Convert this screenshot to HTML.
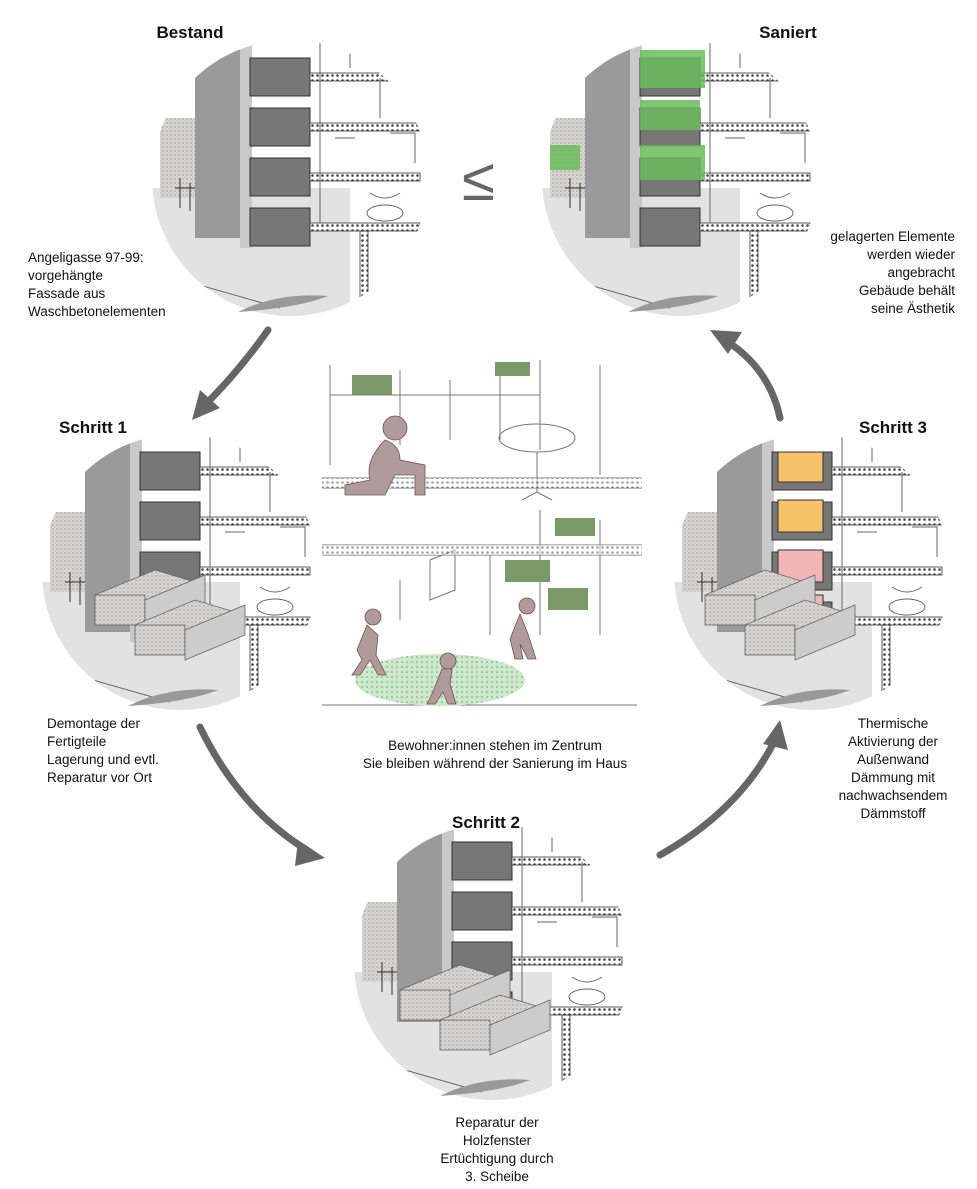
<!DOCTYPE html>
<html><head><meta charset="utf-8"><style>
body{margin:0;background:#fff}
svg{display:block}
text{font-family:"Liberation Sans",sans-serif;fill:#111}
.t{font-size:17px;font-weight:bold}
.s{font-size:13.5px}
</style></head><body>
<svg width="977" height="1189" viewBox="0 0 977 1189" xmlns="http://www.w3.org/2000/svg">
<defs>
<clipPath id="c"><circle cx="0" cy="0" r="138"/></clipPath>
<pattern id="dots" width="4" height="4" patternUnits="userSpaceOnUse"><rect width="4" height="4" fill="#d8d6d0"/><circle cx="1" cy="1" r="0.8" fill="#999"/><circle cx="3" cy="3" r="0.6" fill="#bbb"/></pattern>
<pattern id="hatch" width="5" height="5" patternUnits="userSpaceOnUse"><rect width="5" height="5" fill="#fff"/><circle cx="2.5" cy="2.5" r="1.3" fill="#444"/></pattern>
<pattern id="gr" width="5" height="5" patternUnits="userSpaceOnUse"><rect width="5" height="5" fill="#cfe8c8"/><circle cx="2" cy="2" r="0.8" fill="#5a9"/></pattern>
<g id="bld" clip-path="url(#c)">
  <rect x="-140" y="-140" width="280" height="280" fill="#fff"/>
  <rect x="-140" y="10" width="200" height="130" fill="#e2e2e2"/>
  <rect x="-130" y="-60" width="40" height="80" fill="url(#dots)"/>
  <rect x="-95" y="-140" width="45" height="200" fill="#9a9a9a"/>
  <rect x="-50" y="-140" width="12" height="210" fill="#c9c9c9"/>
  <g fill="#777" stroke="#333" stroke-width="1">
    <rect x="-40" y="-120" width="60" height="38"/>
    <rect x="-40" y="-70" width="60" height="38"/>
    <rect x="-40" y="-20" width="60" height="38"/>
    <rect x="-40" y="30" width="60" height="38"/>
  </g>
  <g fill="url(#hatch)" stroke="#333" stroke-width="0.8">
    <rect x="20" y="-105" width="110" height="8"/>
    <rect x="20" y="-55" width="110" height="8"/>
    <rect x="20" y="-5" width="110" height="8"/>
    <rect x="20" y="45" width="110" height="8"/>
    <rect x="70" y="53" width="8" height="90"/>
  </g>
  <g stroke="#666" fill="none" stroke-width="1">
    <path d="M30-140V45M60-130v20M90-100v40M100-45h25v30M45-40h20M80 15q15 10 30 0"/>
    <ellipse cx="95" cy="35" rx="18" ry="8"/>
    <path d="M-150 90l140 40M-150 100l120 40"/>
  </g>
  <g stroke="#333" fill="none" stroke-width="1"><path d="M-110 0v30M-100 5v28M-115 10h20"/></g>
</g>
<g id="stack" fill="url(#dots)" stroke="#666" stroke-width="0.8">
  <path d="M0 0l60-25 50 15-60 25z"/><rect x="0" y="0" width="50" height="30"/><path d="M50 5l60-25v30l-60 25z" fill="#ccc"/>
</g>
</defs>

<!-- circles -->
<use href="#bld" transform="translate(290,178)"/>
<use href="#bld" transform="translate(680,178)"/>
<use href="#bld" transform="translate(180,572)"/>
<use href="#bld" transform="translate(812,572)"/>
<use href="#bld" transform="translate(492,962)"/>
<!-- Saniert green -->
<g fill="#6bbd5a" opacity="0.85"><rect x="640" y="50" width="65" height="38"/><rect x="640" y="100" width="60" height="30"/><rect x="640" y="145" width="65" height="35"/><rect x="550" y="145" width="30" height="25"/></g>
<!-- Schritt 3 -->
<g stroke="#333"><rect x="778" y="452" width="45" height="30" fill="#f7c36a"/><rect x="778" y="500" width="45" height="32" fill="#f7c36a"/><rect x="778" y="550" width="45" height="32" fill="#f3b6b6"/><rect x="778" y="595" width="45" height="32" fill="#f3b6b6"/></g>
<!-- stacks -->
<use href="#stack" transform="translate(95,595)"/><use href="#stack" transform="translate(135,625)"/>
<use href="#stack" transform="translate(705,595)"/><use href="#stack" transform="translate(745,625)"/>
<use href="#stack" transform="translate(400,990)"/><use href="#stack" transform="translate(440,1020)"/>
<!-- gray bottom arcs -->
<g fill="#999"><path d="M238 312q40-20 90-16q-30 12-90 16z"/><path d="M628 312q40-20 90-16q-30 12-90 16z"/><path d="M128 706q40-20 90-16q-30 12-90 16z"/><path d="M760 706q40-20 90-16q-30 12-90 16z"/><path d="M440 1096q40-20 90-16q-30 12-90 16z"/></g>

<!-- center illustration -->
<g stroke="#777" fill="none" stroke-width="1">
  <path d="M330 365v100M330 395h210M400 370v75M450 380v60M500 370v70M540 360v90M600 365v110"/>
  <path d="M322 478h320M322 488h320"/>
  <path d="M322 545h320M322 555h320"/>
  <path d="M490 555v80M540 510v125M600 520v115M400 580v40M430 560l25-10v40l-25 10z"/>
  <path d="M322 705h315"/>
  <ellipse cx="537" cy="438" rx="38" ry="14"/><path d="M537 452v40l-15 8M537 492l15 8"/>
</g>
<rect x="322" y="478" width="320" height="10" fill="url(#hatch)" opacity="0.5"/>
<rect x="322" y="545" width="320" height="10" fill="url(#hatch)" opacity="0.5"/>
<g fill="#7a9a6a"><rect x="352" y="375" width="40" height="20"/><rect x="495" y="362" width="35" height="14"/><rect x="505" y="560" width="45" height="22"/><rect x="548" y="588" width="40" height="22"/><rect x="555" y="518" width="40" height="18"/></g>
<ellipse cx="440" cy="680" rx="85" ry="26" fill="url(#gr)"/>
<g fill="#b39a9a" stroke="#6a5555" stroke-width="0.8">
  <circle cx="395" cy="428" r="12"/><path d="M385 440q-20 20-15 40l-25 5v10l40 0 10-20 20 0 0 20 10 0v-30l-25-5q0-15-15-20z"/>
  <circle cx="373" cy="617" r="8"/><path d="M367 625l-10 25 5 10-10 15h8l10-15 8 15h8l-10-20 2-20z"/>
  <circle cx="448" cy="661" r="8"/><path d="M442 669l-10 25-5 10h8l8-12 5 12h8l-6-20 2-15z"/>
  <circle cx="527" cy="606" r="8"/><path d="M520 614l-10 25 5 20h8l-3-15 8 15h8l-8-25z"/>
</g>

<!-- arrows -->
<g stroke="#666" stroke-width="7" fill="none" stroke-linecap="round">
  <path d="M268 330Q240 370 205 405"/>
  <path d="M780 418Q770 370 728 342"/>
  <path d="M200 727Q240 810 310 852"/>
  <path d="M660 855Q740 810 775 740"/>
</g>
<g fill="#666">
  <path d="M192 420l8-30 20 18z"/>
  <path d="M710 330l32 2-14 22z"/>
  <path d="M325 858l-30 8 3-26z"/>
  <path d="M780 720l8 30-25-6z"/>
</g>
<text x="462" y="200" style="font-size:60px;fill:#666">≤</text>

<!-- titles -->
<text class="t" x="190" y="38" text-anchor="middle">Bestand</text>
<text class="t" x="788" y="38" text-anchor="middle">Saniert</text>
<text class="t" x="93" y="433" text-anchor="middle">Schritt 1</text>
<text class="t" x="893" y="433" text-anchor="middle">Schritt 3</text>
<text class="t" x="486" y="828" text-anchor="middle">Schritt 2</text>

<g class="s">
<text class="s" x="28" y="262">Angeligasse 97-99:</text>
<text class="s" x="28" y="280">vorgehängte</text>
<text class="s" x="28" y="298">Fassade aus</text>
<text class="s" x="28" y="316">Waschbetonelementen</text>
<text class="s" x="955" y="241" text-anchor="end">gelagerten Elemente</text>
<text class="s" x="955" y="259" text-anchor="end">werden wieder</text>
<text class="s" x="955" y="277" text-anchor="end">angebracht</text>
<text class="s" x="955" y="295" text-anchor="end">Gebäude behält</text>
<text class="s" x="955" y="313" text-anchor="end">seine Ästhetik</text>
<text class="s" x="47" y="728">Demontage der</text>
<text class="s" x="47" y="746">Fertigteile</text>
<text class="s" x="47" y="764">Lagerung und evtl.</text>
<text class="s" x="47" y="782">Reparatur vor Ort</text>
<text class="s" x="893" y="728" text-anchor="middle">Thermische</text>
<text class="s" x="893" y="746" text-anchor="middle">Aktivierung der</text>
<text class="s" x="893" y="764" text-anchor="middle">Außenwand</text>
<text class="s" x="893" y="782" text-anchor="middle">Dämmung mit</text>
<text class="s" x="893" y="800" text-anchor="middle">nachwachsendem</text>
<text class="s" x="893" y="818" text-anchor="middle">Dämmstoff</text>
<text class="s" x="495" y="750" text-anchor="middle">Bewohner:innen stehen im Zentrum</text>
<text class="s" x="495" y="768" text-anchor="middle">Sie bleiben während der Sanierung im Haus</text>
<text class="s" x="497" y="1127" text-anchor="middle">Reparatur der</text>
<text class="s" x="497" y="1145" text-anchor="middle">Holzfenster</text>
<text class="s" x="497" y="1163" text-anchor="middle">Ertüchtigung durch</text>
<text class="s" x="497" y="1181" text-anchor="middle">3. Scheibe</text>
</g>
</svg>
</body></html>
